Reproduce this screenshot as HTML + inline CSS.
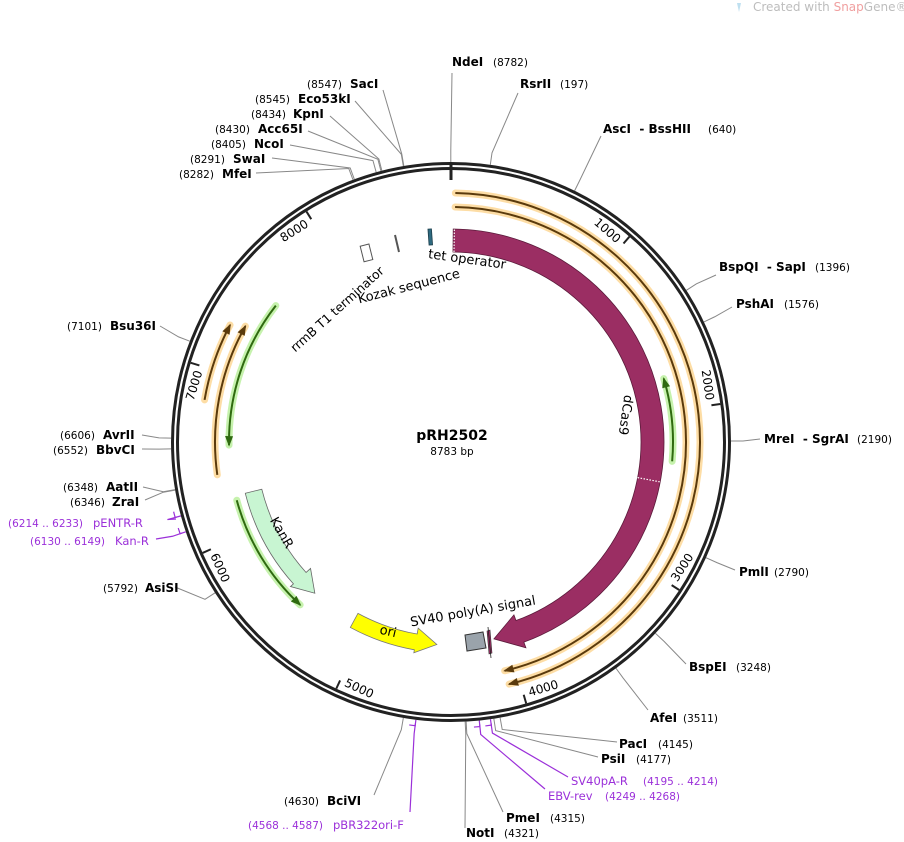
<!DOCTYPE html>
<html><head><meta charset="utf-8">
<style>
html,body{margin:0;padding:0;background:#fff;}
svg{display:block;}
text{font-family:"DejaVu Sans","Liberation Sans",sans-serif;white-space:pre;}
.b{font-weight:bold;font-size:12px;fill:#000;}
.n{font-size:10.5px;fill:#000;}
.p{font-size:11.5px;fill:#9b30d9;}
.f{font-size:13px;fill:#000;}
</style></head>
<body>
<svg id="s" width="904" height="842" viewBox="0 0 904 842" xmlns="http://www.w3.org/2000/svg">
<g id="g"></g>
<path d="M737 3 l4 0 l-2 9 z" fill="#bfe0f0"/>
<text x="753" y="11" style="font-size:12px;fill:#bdbdbd">Created with <tspan fill="#f0a0a0">Snap</tspan>Gene®</text>

<text x="452" y="440" text-anchor="middle" style="font-size:14px;font-weight:bold">pRH2502</text>
<text x="452" y="455" text-anchor="middle" style="font-size:10.5px">8783 bp</text>

<text class="b" x="452" y="66">NdeI</text><text class="n" x="493" y="66">(8782)</text>
<text class="b" x="520" y="88">RsrII</text><text class="n" x="560" y="88">(197)</text>
<text class="b" x="603" y="133">AscI  - BssHII</text><text class="n" x="708" y="133">(640)</text>
<text class="b" x="719" y="271">BspQI  - SapI</text><text class="n" x="815" y="271">(1396)</text>
<text class="b" x="736" y="308">PshAI</text><text class="n" x="784" y="308">(1576)</text>
<text class="b" x="764" y="443">MreI  - SgrAI</text><text class="n" x="857" y="443">(2190)</text>
<text class="b" x="739" y="576">PmlI</text><text class="n" x="774" y="576">(2790)</text>
<text class="b" x="689" y="671">BspEI</text><text class="n" x="736" y="671">(3248)</text>
<text class="b" x="650" y="722">AfeI</text><text class="n" x="683" y="722">(3511)</text>
<text class="b" x="619" y="748">PacI</text><text class="n" x="658" y="748">(4145)</text>
<text class="b" x="601" y="763">PsiI</text><text class="n" x="636" y="763">(4177)</text>
<text class="p" x="571" y="785">SV40pA-R</text><text class="p" x="643" y="785" style="font-size:10.5px">(4195 .. 4214)</text>
<text class="p" x="548" y="800">EBV-rev</text><text class="p" x="605" y="800" style="font-size:10.5px">(4249 .. 4268)</text>
<text class="b" x="506" y="822">PmeI</text><text class="n" x="550" y="822">(4315)</text>
<text class="b" x="466" y="837">NotI</text><text class="n" x="504" y="837">(4321)</text>

<text class="n" x="307" y="88">(8547)</text><text class="b" x="350" y="88">SacI</text>
<text class="n" x="255" y="103">(8545)</text><text class="b" x="298" y="103">Eco53kI</text>
<text class="n" x="251" y="118">(8434)</text><text class="b" x="293" y="118">KpnI</text>
<text class="n" x="215" y="133">(8430)</text><text class="b" x="258" y="133">Acc65I</text>
<text class="n" x="211" y="148">(8405)</text><text class="b" x="254" y="148">NcoI</text>
<text class="n" x="190" y="163">(8291)</text><text class="b" x="233" y="163">SwaI</text>
<text class="n" x="179" y="178">(8282)</text><text class="b" x="222" y="178">MfeI</text>
<text class="n" x="67" y="330">(7101)</text><text class="b" x="110" y="330">Bsu36I</text>
<text class="n" x="60" y="439">(6606)</text><text class="b" x="103" y="439">AvrII</text>
<text class="n" x="53" y="454">(6552)</text><text class="b" x="96" y="454">BbvCI</text>
<text class="n" x="63" y="491">(6348)</text><text class="b" x="106" y="491">AatII</text>
<text class="n" x="70" y="506">(6346)</text><text class="b" x="112" y="506">ZraI</text>
<text class="p" x="8" y="527" style="font-size:10.5px">(6214 .. 6233)</text><text class="p" x="93" y="527">pENTR-R</text>
<text class="p" x="30" y="545" style="font-size:10.5px">(6130 .. 6149)</text><text class="p" x="115" y="545">Kan-R</text>
<text class="n" x="103" y="592">(5792)</text><text class="b" x="145" y="592">AsiSI</text>
<text class="n" x="284" y="805">(4630)</text><text class="b" x="327" y="805">BciVI</text>
<text class="p" x="248" y="829" style="font-size:10.5px">(4568 .. 4587)</text><text class="p" x="333" y="829">pBR322ori-F</text>

<text class="f" transform="translate(625,415) rotate(98)" text-anchor="middle" dominant-baseline="central">dCas9</text>
<text class="f" transform="translate(467,260) rotate(8)" text-anchor="middle" dominant-baseline="central">tet operator</text>
<text class="f" transform="translate(409,287) rotate(-14.5)" text-anchor="middle" dominant-baseline="central">Kozak sequence</text>
<text class="f" transform="translate(337,309) rotate(-42)" text-anchor="middle" dominant-baseline="central" style="font-size:12.5px">rrmB T1 terminator</text>
<text class="f" transform="translate(473,612) rotate(-10)" text-anchor="middle" dominant-baseline="central">SV40 poly(A) signal</text>
<text class="f" transform="translate(281,533) rotate(60)" text-anchor="middle" dominant-baseline="central">KanR</text>
<text class="f" transform="translate(388,632) rotate(13)" text-anchor="middle" dominant-baseline="central">ori</text>

<rect x="428.5" y="229" width="3.5" height="16" fill="#2e6a80" stroke="#1b3d4a" stroke-width="0.8" transform="rotate(-4 430 237)"/>
<line x1="395" y1="235" x2="399" y2="252" stroke="#555" stroke-width="2"/>
<rect x="362" y="245" width="9" height="16" fill="#fff" stroke="#555" stroke-width="1" transform="rotate(-14 366 253)"/>
<polygon points="465,635 483,632 486,648 467,651" fill="#9aa3ab" stroke="#333" stroke-width="1"/>
<polygon points="487,631 490,630 492,653 489,654" fill="#9b2e63" stroke="#333" stroke-width="0.6"/>
<line x1="488" y1="627" x2="491" y2="658" stroke="#222" stroke-width="0.8"/>
</svg>
<script>
var cx=451,cy=442,NS="http://www.w3.org/2000/svg",G=document.getElementById('g');
function P(r,a){a=a*Math.PI/180;return [cx+r*Math.sin(a),cy-r*Math.cos(a)];}
function el(t,at){var e=document.createElementNS(NS,t);for(var k in at)e.setAttribute(k,at[k]);G.appendChild(e);return e;}
function arc(r,a1,a2){var p=P(r,a1),q=P(r,a2),l=Math.abs(a2-a1)>180?1:0,s=a2>a1?1:0;return "M"+p[0]+" "+p[1]+" A"+r+" "+r+" 0 "+l+" "+s+" "+q[0]+" "+q[1];}
function arcTo(r,a1,a2){var q=P(r,a2),l=Math.abs(a2-a1)>180?1:0,s=a2>a1?1:0;return " A"+r+" "+r+" 0 "+l+" "+s+" "+q[0]+" "+q[1];}
function L(p){return " L"+p[0]+" "+p[1];}
var lines=[[359.96,452,73],[8.07,518,93],[26.2,601,136],[57.2,716,275],[64.6,732,307],[89.8,760,439],[114.4,735,570],[133.1,686,664],[143.9,648,710],[169.9,617,742],[171.2,598,757],[176.9,503,812],[177.1,465,828],[189.8,374,795],[237.4,175,587],[260.1,145,500],[260.2,143,487],[268.6,142,449],[270.8,142,435],[291.1,160,326],[339.5,256,173],[339.8,272,158],[344.5,290,145],[345.5,308,131],[345.7,330,116],[350.2,355,101],[350.3,383,90]];
lines.forEach(function(l){var a=P(280,l[0]),b=P(292,l[0]);el('path',{d:"M"+a[0]+" "+a[1]+L(b)+L([l[1],l[2]]),fill:"none",stroke:"#888",'stroke-width':1});});
var pl=[[171.9,568,777],[174.2,545,789],[187.2,410,812],[251.3,156,539],[254.7,176,519]];
pl.forEach(function(l){var a=P(284,l[0]),b=P(294,l[0]);el('path',{d:"M"+a[0]+" "+a[1]+L(b)+L([l[1],l[2]]),fill:"none",stroke:"#9b30d9",'stroke-width':1.2});
 var c=P(286,l[0]),d=P(286,l[0]+1.2);el('path',{d:"M"+P(280,l[0])[0]+" "+P(280,l[0])[1]+L(c)+L(d),fill:"none",stroke:"#9b30d9",'stroke-width':1.2});});
el('circle',{cx:cx,cy:cy,r:278.5,fill:"none",stroke:"#222",'stroke-width':3});
el('circle',{cx:cx,cy:cy,r:273.5,fill:"none",stroke:"#222",'stroke-width':3});
el('circle',{cx:cx,cy:cy,r:276,fill:"none",stroke:"#fff",'stroke-width':1.3});
var t0=P(279,0),t1=P(262,0);el('line',{x1:t0[0],y1:t0[1],x2:t1[0],y2:t1[1],stroke:"#222",'stroke-width':3});
for(var k=1;k<=8;k++){var a=k*1000/8783*360,p=P(272,a),q=P(263,a);el('line',{x1:p[0],y1:p[1],x2:q[0],y2:q[1],stroke:"#222",'stroke-width':2});
 var rot=a<90?a:(a<270?a-180:a-360),c=P(263,a-4.5);var t=el('text',{transform:"translate("+c[0]+","+c[1]+") rotate("+rot+")",'text-anchor':"middle",'dominant-baseline':"central",style:"font-size:12px"});t.textContent=k*1000;}
function thin(r,a1,a2,halo,col){el('path',{d:arc(r,a1,a2),fill:"none",stroke:halo,'stroke-width':7,'stroke-linecap':"round",opacity:0.8});
 el('path',{d:arc(r,a1,a2),fill:"none",stroke:col,'stroke-width':2});
 var dir=a2>a1?1:-1,da=9/r*180/Math.PI;var tip=P(r,a2+dir*1.5/r*180/Math.PI),b1=P(r+4,a2-dir*da),b2=P(r-4,a2-dir*da);
 el('polygon',{points:tip.join(",")+" "+b1.join(",")+" "+b2.join(","),fill:col});}
var OH="#fcd58f",OC="#5a3a0c",GH="#b8ef98",GC="#2f6a10";
thin(249,1,166.5,OH,OC);thin(235,1,166.8,OH,OC);
thin(250,279.7,297.9,OH,OC);thin(236,262,299.4,OH,OC);
thin(222,95,73.4,GH,GC);thin(222,307.9,269.2,GH,GC);thin(222,254.8,222.8,GH,GC);
function fat(r1,r2,h1,h2,a0,ab,at,fill,stroke){var tipr=(r1+r2)/2;
 var d="M"+P(r2,a0).join(" ")+arcTo(r2,a0,ab)+L(P(h2,ab))+L(P(tipr,at))+L(P(h1,ab))+L(P(r1,ab))+arcTo(r1,ab,a0)+" Z";
 el('path',{d:d,fill:fill,stroke:stroke,'stroke-width':0.8});}
fat(190,213,184,219,0.6,160,167.7,"#9b2e63","#5a1a3a");
fat(195,212,189,216,256,228,222,"#c8f5d2","#666");
fat(195,211,189,214,208.5,190,184,"#ffff00","#777");
[[0.9],[100.8]].forEach(function(a){var p=P(190,a[0]),q=P(213,a[0]);el('line',{x1:p[0],y1:p[1],x2:q[0],y2:q[1],stroke:"#fff",'stroke-width':1.2,'stroke-dasharray':"1.5,1.5"});});
</script>
</body></html>
